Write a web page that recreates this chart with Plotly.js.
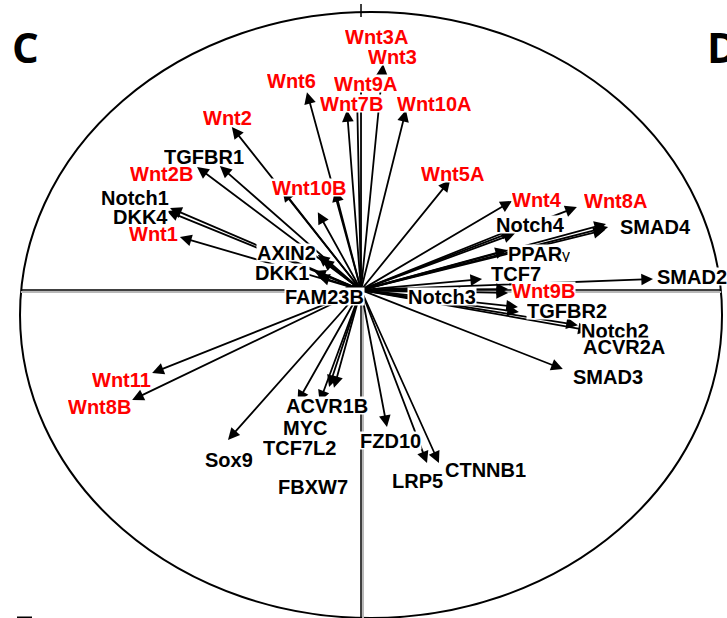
<!DOCTYPE html>
<html><head><meta charset="utf-8">
<script src="https://cdn.plot.ly/plotly-3.0.1.min.js"></script>
<style>html,body{margin:0;padding:0;background:#fff;overflow:hidden}</style>
</head><body><div id="chart" style="width:727px;height:618px"></div>
<script>
// Gene names (Wnt family shown in red)
const genes = ["Wnt3A","Wnt3","Wnt9A","Wnt7B","Wnt10A","Wnt6","Wnt2","TGFBR1","Wnt2B","Notch1",
  "DKK4","Wnt1","Wnt10B","AXIN2","DKK1","FAM23B","Notch3","Wnt5A","Wnt4","Wnt8A",
  "Notch4","SMAD4","PPARγ","TCF7","SMAD2","Wnt9B","TGFBR2","Notch2","ACVR2A","SMAD3",
  "Wnt11","Wnt8B","Sox9","ACVR1B","MYC","TCF7L2","FBXW7","FZD10","LRP5","CTNNB1"];
// Arrow tips (component 1 / component 2)
const loadX = [0.000,0.063,-0.011,-0.040,0.128,-0.154,-0.368,-0.402,-0.467,-0.544,
  -0.553,-0.516,-0.123,-0.123,-0.134,-0.046,0.311,0.254,0.430,0.615,
  0.430,0.704,0.416,0.345,0.832,0.419,0.447,0.618,0.652,0.575,
  -0.595,-0.652,-0.379,-0.077,-0.091,-0.118,-0.181,0.074,0.188,0.222];
const loadY = [0.700,0.746,0.627,0.594,0.594,0.653,0.538,0.409,0.406,0.271,
  0.261,0.175,0.257,0.116,0.063,0.010,-0.010,0.363,0.294,0.274,
  0.200,0.208,0.132,0.036,0.036,0.003,-0.056,-0.116,-0.134,-0.261,
  -0.274,-0.363,-0.495,-0.323,-0.320,-0.370,-0.370,-0.452,-0.571,-0.571];
// Label positions
const labelX = [0.043,0.091,0.014,-0.026,0.208,-0.197,-0.379,-0.447,-0.567,-0.644,
  -0.627,-0.590,-0.148,-0.211,-0.225,-0.105,0.231,0.262,0.501,0.724,
  0.484,0.838,0.507,0.442,0.943,0.519,0.587,0.724,0.749,0.704,
  -0.681,-0.744,-0.376,-0.097,-0.160,-0.174,-0.137,0.083,0.160,0.356];
const labelY = [0.838,0.772,0.680,0.617,0.614,0.690,0.568,0.442,0.383,0.304,
  0.244,0.188,0.337,0.125,0.059,-0.020,-0.020,0.383,0.300,0.294,
  0.215,0.211,0.122,0.056,0.046,0.000,-0.069,-0.135,-0.185,-0.284,
  -0.297,-0.383,-0.561,-0.380,-0.455,-0.521,-0.647,-0.498,-0.630,-0.594];
// Additional unlabeled arrows
const extraX = [-0.224,-0.074,0.439,0.419,0.450,0.695,0.698,-0.111,-0.123];
const extraY = [0.330,0.330,0.187,-0.010,-0.073,0.198,0.218,0.102,0.046];

const FONT = 'Arial, "Liberation Sans", sans-serif';
function arrow(x, y) {
  return {xref:'x', yref:'y', axref:'x', ayref:'y', x:x, y:y, ax:0, ay:0, text:'',
    showarrow:true, arrowhead:2, arrowsize:1.3, arrowwidth:1.8, arrowcolor:'#000',
    standoff:0, startstandoff:0};
}
function fmt(g) {
  return '<b>' + g.replace('γ', '</b><span style="font-weight:normal;font-size:16px">γ</span><b>') + '</b>';
}
const annotations = [];
genes.forEach((g, i) => annotations.push(arrow(loadX[i], loadY[i])));
extraX.forEach((x, i) => annotations.push(arrow(x, extraY[i])));
genes.forEach((g, i) => annotations.push({
  xref:'x', yref:'y', x:labelX[i], y:labelY[i], text:fmt(g), showarrow:false,
  font:{family:FONT, size:20, color: g.indexOf('Wnt') === 0 ? '#ff0000' : '#000000'},
  bgcolor:'#ffffff', borderpad:0, height:17, xanchor:'center', yanchor:'middle'
}));
annotations.push({xref:'paper', yref:'paper', x:25/727, y:1-46/618, text:'<b>C</b>', showarrow:false,
  font:{family:'"Open Sans", sans-serif', size:42, color:'#000'}, xanchor:'center', yanchor:'middle'});
annotations.push({xref:'paper', yref:'paper', x:705/727, y:1-46/618, text:'<b>D</b>', showarrow:false,
  font:{family:'"Open Sans", sans-serif', size:42, color:'#000'}, xanchor:'left', yanchor:'middle'});

const shapes = [
  {type:'circle', xref:'x', yref:'y', x0:-0.9715, x1:1.0285, y0:-1.0825, y1:0.9175, line:{color:'#000', width:2}},
  {type:'line', xref:'x', yref:'y', x0:-0.969, x1:1.026, y0:-0.0066, y1:-0.0066, line:{color:'#b8b8b8', width:2}},
  {type:'line', xref:'x', yref:'y', x0:-0.969, x1:1.026, y0:0, y1:0, line:{color:'#000', width:1.5}},
  {type:'line', xref:'x', yref:'y', x0:0.0057, x1:0.0057, y0:0, y1:-1.09, line:{color:'#b8b8b8', width:2}},
  {type:'line', xref:'x', yref:'y', x0:0, x1:0, y0:0, y1:-1.09, line:{color:'#000', width:1.5}},
  {type:'line', xref:'x', yref:'y', x0:0, x1:0, y0:0.944, y1:0.901, line:{color:'#000', width:1.5}},
  {type:'line', xref:'paper', yref:'paper', x0:17/727, x1:32/727, y0:0.5/618, y1:0.5/618, line:{color:'#000', width:2}}
];

const ax = {showgrid:false, zeroline:false, showticklabels:false, showline:false, ticks:'', fixedrange:true};
const layout = {
  width:727, height:618, margin:{l:0, r:0, t:0, b:0},
  paper_bgcolor:'#fff', plot_bgcolor:'#fff', showlegend:false,
  xaxis:Object.assign({range:[-1.0285, 1.0427]}, ax),
  yaxis:Object.assign({range:[-1.0825, 0.9571]}, ax),
  shapes:shapes, annotations:annotations
};
Plotly.newPlot('chart', [], layout, {displayModeBar:false, staticPlot:true});
</script></body></html>
